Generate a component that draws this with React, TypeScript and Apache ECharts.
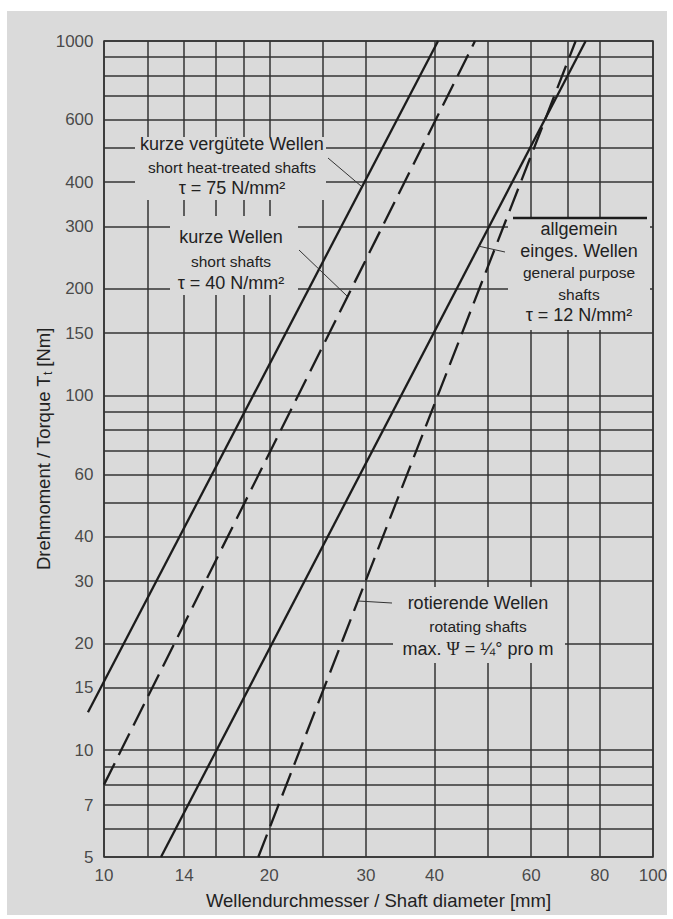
import React, { useEffect, useRef } from "react";
import * as echarts from "echarts";

// ---- data ----
const xGridValues = [10, 12, 14, 16, 18, 20, 25, 30, 40, 50, 60, 70, 80, 100];
const xTickLabels = [10, 14, 20, 30, 40, 60, 80, 100];
const yGridValues = [5, 6, 7, 8, 9, 10, 15, 20, 30, 40, 50, 60, 70, 80, 90, 100, 150, 200, 300, 400, 500, 600, 700, 800, 900, 1000];
const yTickLabels = [5, 7, 10, 15, 20, 30, 40, 60, 100, 150, 200, 300, 400, 600, 1000];
const xRange = [10, 100];
const yRange = [5, 1000];

// [diameter mm, torque Nm]
const heatTreated75 = [[9.35, 12.8], [40.6, 1000]];
const shortShafts40 = [[10, 8.0], [47.4, 1000]];
const generalPurpose12 = [[12.7, 5], [75.4, 1000]];
const rotatingShafts = [[19.1, 5], [72.3, 1000]];

const FONT = '"Liberation Sans", Arial, Helvetica, sans-serif';
const INK = "#222";
const GRID = "#333";
const LINE = "#1c1c1c";
const BG = "#dadada";

export default function App() {
  const ref = useRef<HTMLDivElement>(null);

  useEffect(() => {
    const chart = echarts.init(ref.current!, null, { renderer: "svg" });

    const mkLine = (name: string, data: number[][], dashed: boolean) => ({
      type: "line",
      name,
      data,
      symbol: "none",
      clip: false,
      silent: true,
      z: 5,
      lineStyle: { color: LINE, width: 2.3, type: dashed ? [24, 9] : "solid", cap: "butt" },
    });

    // custom series so the line may run past the left frame (log-space extrapolation
    // from the axis' own corner coordinates)
    const mkExtLine = (name: string, data: number[][]) => ({
      type: "custom",
      name,
      clip: false,
      silent: true,
      z: 5,
      data: [data.flat()],
      encode: { x: [0, 2], y: [1, 3] },
      renderItem: (_params: any, api: any) => {
        const a = api.coord([xRange[0], yRange[0]]);
        const b = api.coord([xRange[1], yRange[1]]);
        const lx0 = Math.log10(xRange[0]);
        const lx1 = Math.log10(xRange[1]);
        const ly0 = Math.log10(yRange[0]);
        const ly1 = Math.log10(yRange[1]);
        const toPx = (x: number, y: number) => [
          a[0] + ((Math.log10(x) - lx0) / (lx1 - lx0)) * (b[0] - a[0]),
          a[1] + ((Math.log10(y) - ly0) / (ly1 - ly0)) * (b[1] - a[1]),
        ];
        const points = [toPx(api.value(0), api.value(1)), toPx(api.value(2), api.value(3))];
        return {
          type: "polyline",
          shape: { points },
          style: { stroke: LINE, lineWidth: 2.3, fill: null },
        };
      },
    });

    const big = (text: string, x: number, y: number) => ({
      type: "text",
      z: 6,
      silent: true,
      style: { text, x, y, align: "center", verticalAlign: "middle", fontSize: 18, fontFamily: FONT, fill: INK },
    });
    const small = (text: string, x: number, y: number) => ({
      type: "text",
      z: 6,
      silent: true,
      style: { text, x, y, align: "center", verticalAlign: "middle", fontSize: 15.5, fontFamily: FONT, fill: INK },
    });
    const box = (x: number, y: number, width: number, height: number) => ({
      type: "rect",
      z: 3,
      silent: true,
      shape: { x, y, width, height },
      style: { fill: BG, stroke: null },
    });
    const leader = (x1: number, y1: number, x2: number, y2: number) => ({
      type: "line",
      z: 6,
      silent: true,
      shape: { x1, y1, x2, y2 },
      style: { stroke: "#333", lineWidth: 1 },
    });

    const option: any = {
      animation: false,
      backgroundColor: "transparent",
      grid: {
        left: 104,
        top: 41,
        right: 20,
        bottom: 62,
        show: true,
        borderColor: GRID,
        borderWidth: 1.5,
        backgroundColor: "transparent",
      },
      xAxis: {
        type: "log",
        logBase: 10,
        min: xRange[0],
        max: xRange[1],
        axisLine: { show: false },
        axisTick: { show: false },
        axisLabel: { show: false },
        splitLine: { show: false },
        name: "Wellendurchmesser / Shaft diameter [mm]",
        nameLocation: "middle",
        nameGap: 32,
        nameTextStyle: { fontSize: 18.5, fontFamily: FONT, color: INK, lineHeight: 22 },
      },
      yAxis: {
        type: "log",
        logBase: 10,
        min: yRange[0],
        max: yRange[1],
        axisLine: { show: false },
        axisTick: { show: false },
        axisLabel: { show: false },
        splitLine: { show: false },
        name: "Drehmoment / Torque T{sub|t} [Nm]",
        nameLocation: "middle",
        nameGap: 50,
        nameTextStyle: {
          fontSize: 18.5,
          fontFamily: FONT,
          color: INK,
          lineHeight: 22,
          rich: { sub: { fontSize: 12, lineHeight: 14, verticalAlign: "bottom", fontFamily: FONT, color: INK } },
        },
      },
      series: [
        {
          type: "line",
          name: "grid",
          data: [],
          z: 1,
          silent: true,
          markLine: {
            silent: true,
            z: 1,
            symbol: ["none", "none"],
            label: { show: false },
            emphasis: { disabled: true },
            lineStyle: { color: GRID, width: 1.5, type: "solid" },
            data: [
              ...xGridValues.map((v) => ({ xAxis: v })),
              ...yGridValues.map((v) => ({ yAxis: v })),
            ],
          },
        },
        {
          type: "scatter",
          name: "yLabels",
          data: yTickLabels.map((v) => [xRange[0], v]),
          symbolSize: 1,
          clip: false,
          silent: true,
          z: 4,
          itemStyle: { color: "rgba(0,0,0,0)" },
          label: {
            show: true,
            position: "left",
            distance: 10,
            formatter: (p: any) => String(p.value[1]),
            fontSize: 17,
            fontFamily: FONT,
            color: INK,
          },
        },
        {
          type: "scatter",
          name: "xLabels",
          data: xTickLabels.map((v) => [v, yRange[0]]),
          symbolSize: 1,
          clip: false,
          silent: true,
          z: 4,
          itemStyle: { color: "rgba(0,0,0,0)" },
          label: {
            show: true,
            position: "bottom",
            distance: 9,
            formatter: (p: any) => String(p.value[0]),
            fontSize: 17,
            fontFamily: FONT,
            color: INK,
          },
        },
        mkExtLine("kurze vergütete Wellen", heatTreated75),
        mkLine("kurze Wellen", shortShafts40, true),
        mkLine("allgemein eingesetzte Wellen", generalPurpose12, false),
        mkLine("rotierende Wellen", rotatingShafts, true),
      ],
      graphic: [
        box(135, 137, 191, 63),
        box(170, 216, 128, 79),
        box(508, 219, 142, 111),
        box(393, 587, 172, 76),
        {
          type: "line",
          z: 6,
          silent: true,
          shape: { x1: 513, y1: 218, x2: 647, y2: 218 },
          style: { stroke: LINE, lineWidth: 2.5 },
        },
        leader(328, 158, 361, 186),
        leader(299, 250, 347, 296),
        leader(478, 246, 505, 252),
        leader(358, 601, 392, 603),
        big("kurze vergütete Wellen", 232, 144),
        small("short heat-treated shafts", 232, 167),
        big("τ = 75 N/mm²", 232, 188),
        big("kurze Wellen", 231, 237),
        small("short shafts", 231, 261),
        big("τ = 40 N/mm²", 231, 283),
        big("allgemein", 579, 229),
        big("einges. Wellen", 579, 251),
        small("general purpose", 579, 272),
        small("shafts", 579, 294),
        big("τ = 12 N/mm²", 579, 315),
        big("rotierende Wellen", 478, 603),
        small("rotating shafts", 478, 626),
        {
          type: "text",
          z: 6,
          silent: true,
          style: {
            text: "max. {psi|Ψ} = ¼° pro m",
            x: 478,
            y: 649,
            align: "center",
            verticalAlign: "middle",
            fontSize: 18,
            fontFamily: FONT,
            fill: INK,
            rich: { psi: { fontSize: 18, fontFamily: '"Liberation Serif", serif', fill: INK } },
          },
        },
      ],
    };

    chart.setOption(option);
    return () => chart.dispose();
  }, []);

  return (
    <div style={{ position: "absolute", left: 0, top: 0, width: 673, height: 919, background: "#fff" }}>
      <div style={{ position: "absolute", left: 7, top: 11, width: 660, height: 904, background: BG }} />
      <div ref={ref} style={{ position: "absolute", left: 0, top: 0, width: 673, height: 919 }} />
    </div>
  );
}
